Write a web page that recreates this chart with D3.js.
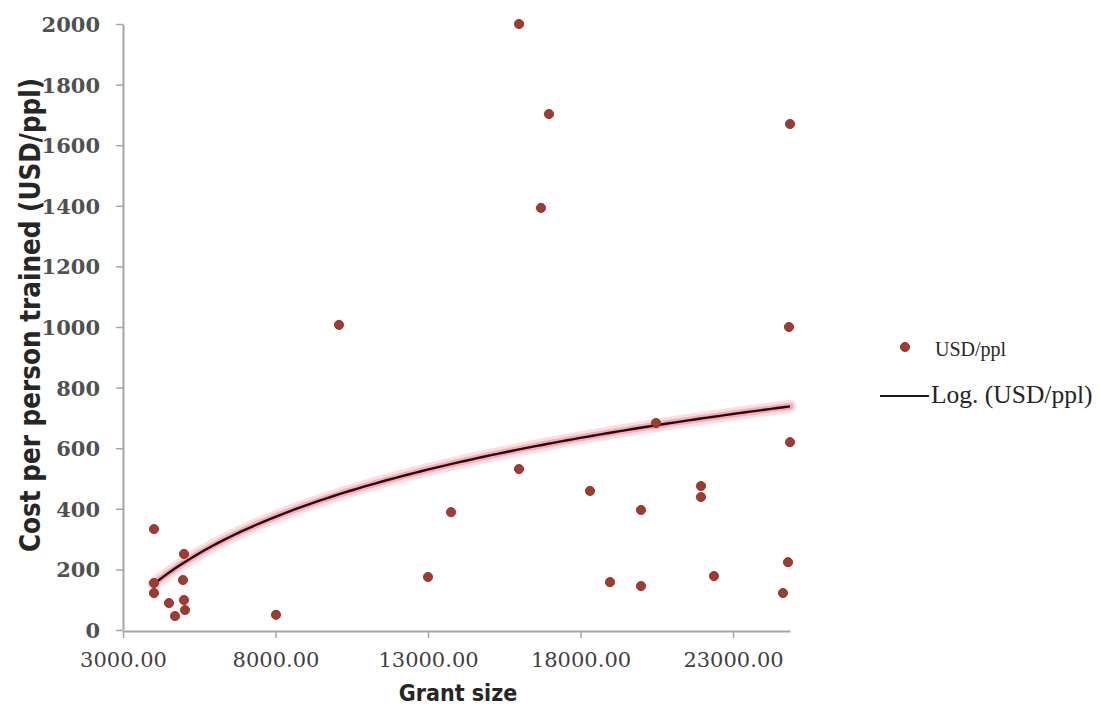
<!DOCTYPE html>
<html>
<head>
<meta charset="utf-8">
<script src="https://cdn.jsdelivr.net/npm/d3@7"></script>
<style>
  html, body { margin: 0; padding: 0; background: #fff; }
  svg { display: block; }
</style>
</head>
<body>
<svg id="chart" width="1099" height="707"></svg>
<script>
// ---- Data ----
const grantSize = [4016, 4016, 4016, 4508, 4705, 5000, 4967, 5000, 5033, 8016,
                   10082, 13000, 13754, 15984, 15984, 16705, 16967, 18311, 18967, 19984,
                   19984, 20475, 21951, 21951, 22377, 24639, 24869, 24836, 24869, 24803];
const usdPerPerson = [333, 155, 122, 89, 46, 251, 165, 99, 66, 50,
                      1007, 175, 389, 2000, 531, 1393, 1703, 459, 158, 396,
                      145, 683, 475, 439, 178, 122, 1670, 1000, 620, 224];
const xTicks = [3000, 8000, 13000, 18000, 23000];
const yTicks = [0, 200, 400, 600, 800, 1000, 1200, 1400, 1600, 1800, 2000];
const seriesName = "USD/ppl";
const trendName = "Log. (USD/ppl)";
const xTitle = "Grant size";
const yTitle = "Cost per person trained (USD/ppl)";

// ---- Layout ----
const svg = d3.select("#chart");
const mLeft = 123, mRight = 790, mTop = 24, mBottom = 630;

const x = d3.scaleLinear().domain([3000, 24869]).range([mLeft, mRight]);
const y = d3.scaleLinear().domain([0, 2000]).range([mBottom, mTop]);

svg.append("rect").attr("width", 1099).attr("height", 707).attr("fill", "#fff");

// ---- Logarithmic trend line (least squares on ln x) ----
const pts = grantSize.map((g, i) => [g, usdPerPerson[i]]);
const lx = pts.map(p => Math.log(p[0]));
const mx = d3.mean(lx), my = d3.mean(pts, p => p[1]);
let sxy = 0, sxx = 0;
pts.forEach((p, i) => { sxy += (lx[i] - mx) * (p[1] - my); sxx += (lx[i] - mx) ** 2; });
const a = sxy / sxx, b = my - a * mx;
const xMin = d3.min(grantSize), xMax = d3.max(grantSize);
const trend = d3.range(0, 101).map(k => {
  const gx = xMin + (xMax - xMin) * k / 100;
  return [gx, a * Math.log(gx) + b];
});
const line = d3.line().x(d => x(d[0])).y(d => y(d[1])).curve(d3.curveLinear);

// glow
svg.append("path").datum(trend).attr("d", line)
  .attr("fill", "none").attr("stroke", "#f7b3c2").attr("stroke-opacity", 0.45)
  .attr("stroke-width", 13).attr("stroke-linecap", "round");
svg.append("path").datum(trend).attr("d", line)
  .attr("fill", "none").attr("stroke", "#ee8ea2").attr("stroke-opacity", 0.6)
  .attr("stroke-width", 7).attr("stroke-linecap", "round");

// ---- Axes ----
const axisColor = "#a6a6a6";
const tickFont = "'DejaVu Serif', serif";

const yAxis = svg.append("g").attr("transform", `translate(${mLeft},0)`)
  .call(d3.axisLeft(y).tickValues(yTicks).tickSize(7).tickSizeOuter(0).tickPadding(16)
    .tickFormat(d3.format("d")));
const xAxis = svg.append("g").attr("transform", `translate(0,${mBottom + 1})`)
  .call(d3.axisBottom(x).tickValues(xTicks).tickSize(7).tickSizeOuter(0).tickPadding(14)
    .tickFormat(d3.format(".2f")));

[xAxis, yAxis].forEach(g => {
  g.select(".domain").attr("stroke", axisColor).attr("stroke-width", 2);
  g.selectAll(".tick line").attr("stroke", axisColor).attr("stroke-width", 1.5);
  g.selectAll(".tick text").attr("fill", "#3f3f3f").attr("font-family", tickFont)
    .attr("font-size", 21);
});
yAxis.selectAll(".tick text").attr("font-weight", "bold").attr("fill", "#505050").attr("dy", "0.36em");
xAxis.selectAll(".tick text").attr("dy", "0.71em");

// ---- Trend line core ----
svg.append("path").datum(trend).attr("d", line)
  .attr("fill", "none").attr("stroke", "#2b0606").attr("stroke-width", 2.4);

// ---- Points ----
svg.append("g").selectAll("circle").data(pts).join("circle")
  .attr("cx", d => x(d[0])).attr("cy", d => y(d[1])).attr("r", 4.6)
  .attr("fill", "#a13a30").attr("stroke", "#7d2a24").attr("stroke-width", 0.8);

// ---- Axis titles ----
const titleFont = "'DejaVu Sans Condensed', 'DejaVu Sans', sans-serif";
svg.append("text").attr("x", 458).attr("y", 701).attr("text-anchor", "middle")
  .attr("font-family", titleFont).attr("font-weight", "bold").attr("font-size", 23)
  .attr("fill", "#262626").text(xTitle);
svg.append("text").attr("transform", "translate(40,315) rotate(-90)").attr("text-anchor", "middle")
  .attr("font-family", titleFont).attr("font-weight", "bold").attr("font-size", 27.5)
  .attr("fill", "#262626").text(yTitle);

// ---- Legend ----
const legFont = "'Liberation Serif', serif";
const leg = svg.append("g");
leg.append("circle").attr("cx", 905).attr("cy", 347).attr("r", 4.6)
  .attr("fill", "#a13a30").attr("stroke", "#7d2a24").attr("stroke-width", 0.8);
leg.append("text").attr("x", 935).attr("y", 356).attr("font-family", legFont)
  .attr("font-size", 20).attr("fill", "#262626").text(seriesName);
leg.append("line").attr("x1", 880).attr("x2", 929).attr("y1", 396).attr("y2", 396)
  .attr("stroke", "#1a1a1a").attr("stroke-width", 2.2);
leg.append("text").attr("x", 931).attr("y", 403).attr("font-family", legFont)
  .attr("font-size", 25.5).attr("fill", "#262626").text(trendName);
</script>
</body>
</html>
